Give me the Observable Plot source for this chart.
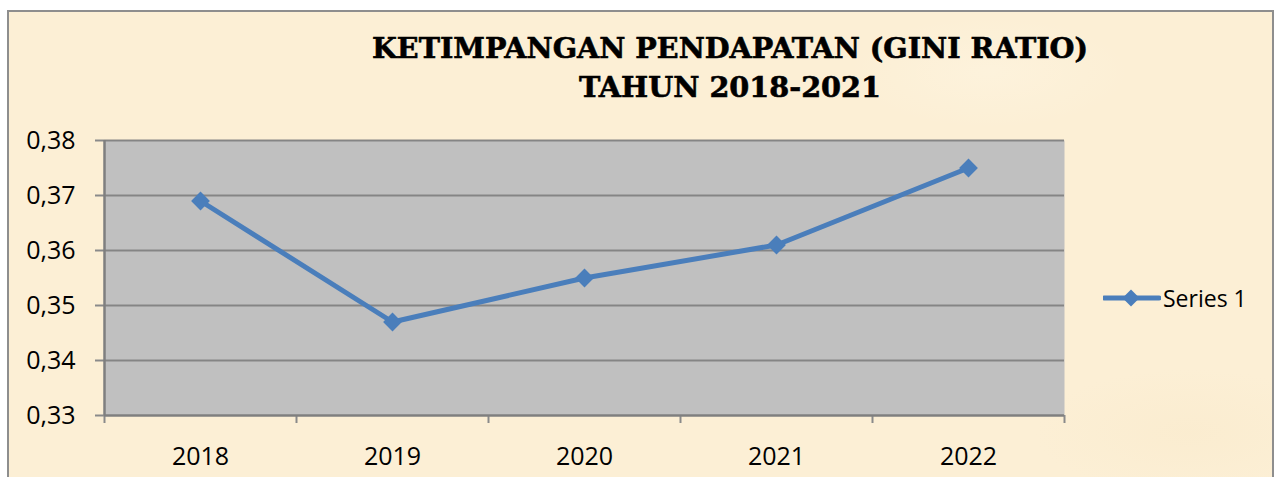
<!DOCTYPE html>
<html>
<head>
<meta charset="utf-8">
<script src="https://cdn.jsdelivr.net/npm/d3@7"></script>
<script src="https://cdn.jsdelivr.net/npm/@observablehq/plot@0.6"></script>
<style>
  html, body { margin: 0; padding: 0; background: #fff; }
  #page { position: relative; width: 1275px; height: 477px; overflow: hidden; background: #fff; }
  #frame {
    position: absolute; left: 7px; top: 10px; width: 1263px; height: 480px;
    border: 2px solid #8e8e8e;
    background:
      radial-gradient(ellipse 200px 80px at 980px 60px, rgba(255,248,232,0.35), rgba(255,248,232,0) 70%),
      radial-gradient(ellipse 220px 90px at 1180px 420px, rgba(247,230,196,0.3), rgba(247,230,196,0) 70%),
      #fcefd5;
  }
  #title { position: absolute; left: 0; top: 0; }
  #chart { position: absolute; left: 0; top: 110px; }
  #legend { position: absolute; left: 1103px; top: 284px; height: 28px; display: flex; align-items: center; font-family: "Open Sans", sans-serif; font-size: 23px; color: #000; }
</style>
</head>
<body>
<div id="page">
  <div id="frame"></div>
  <svg id="title" width="1275" height="110"></svg>
  <div id="chart"></div>
  <div id="legend"></div>
</div>
<script>
const years = [2018, 2019, 2020, 2021, 2022];
const gini = [0.369, 0.347, 0.355, 0.361, 0.375];
const yTicks = [0.33, 0.34, 0.35, 0.36, 0.37, 0.38];
const seriesName = "Series 1";
const titleLines = ["KETIMPANGAN PENDAPATAN (GINI RATIO)", "TAHUN 2018-2021"];

const lineColor = "#4a7ebb";
const data = years.map((year, i) => ({year, value: gini[i]}));
const boundaries = [...years.map(y => y - 0.5), years[years.length - 1] + 0.5];
const fmt = d => d.toFixed(2).replace(".", ",");

// Title
const tsvg = d3.select("#title");
const titleSpecs = [{y: 58, len: 716}, {y: 97, len: 302}];
titleLines.forEach((t, i) => {
  tsvg.append("text")
    .attr("x", 730).attr("y", titleSpecs[i].y)
    .attr("text-anchor", "middle")
    .attr("textLength", titleSpecs[i].len)
    .attr("lengthAdjust", "spacingAndGlyphs")
    .attr("font-family", "DejaVu Serif, serif")
    .attr("font-weight", "bold")
    .attr("font-size", 28)
    .attr("fill", "#000")
    .attr("stroke", "#000")
    .attr("stroke-width", 0.6)
    .text(t);
});

const chart = Plot.plot({
  width: 1275,
  height: 367,
  marginLeft: 104,
  marginRight: 211,
  marginTop: 30,
  marginBottom: 62,
  style: {background: "transparent", fontFamily: "'Open Sans', sans-serif", fontSize: "25px", color: "#000", overflow: "visible"},
  x: {type: "linear", domain: d3.extent(boundaries), label: null},
  y: {domain: d3.extent(yTicks), label: null},
  marks: [
    Plot.frame({fill: "#c0c0c0", stroke: null}),
    Plot.gridY(yTicks, {stroke: "#858585", strokeOpacity: 1, strokeWidth: 2}),
    Plot.axisY(yTicks, {tickSize: 9, tickPadding: 20, tickFormat: fmt, stroke: "#8a8a8a", strokeWidth: 2, fill: "#000", label: null}),
    Plot.axisX(years, {tickSize: 0, tickPadding: 32, tickFormat: d => String(d), fill: "#000", label: null}),
    Plot.axisX(boundaries, {tickSize: 8, tickFormat: () => "", stroke: "#8a8a8a", strokeWidth: 2, label: null}),
    Plot.ruleX([d3.min(boundaries)], {stroke: "#7f7f7f", strokeWidth: 2.5}),
    Plot.ruleY([d3.min(yTicks)], {stroke: "#7f7f7f", strokeWidth: 2}),
    Plot.line(data, {x: "year", y: "value", stroke: lineColor, strokeWidth: 5}),
    Plot.dot(data, {x: "year", y: "value", symbol: "square", rotate: 45, fill: lineColor, stroke: null, r: 7.5})
  ]
});
document.getElementById("chart").appendChild(chart);

// Legend
const legend = d3.select("#legend");
const lsvg = legend.append("svg").attr("width", 58).attr("height", 28).style("margin-right", "2px");
lsvg.append("line").attr("x1", 1).attr("x2", 56).attr("y1", 14).attr("y2", 14)
  .attr("stroke", lineColor).attr("stroke-width", 5).attr("stroke-linecap", "round");
lsvg.append("rect").attr("x", 28 - 6).attr("y", 14 - 6).attr("width", 12).attr("height", 12)
  .attr("fill", lineColor).attr("transform", "rotate(45 28 14)");
legend.append("span").text(seriesName);
</script>
</body>
</html>
